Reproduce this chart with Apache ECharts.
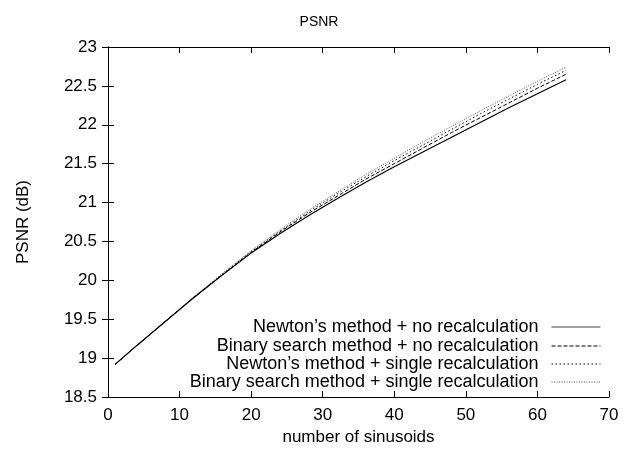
<!DOCTYPE html>
<html>
<head>
<meta charset="utf-8">
<script src="https://cdn.jsdelivr.net/npm/echarts@6/dist/echarts.min.js"></script>
<style>
html,body{margin:0;padding:0;background:#fff;}
#main{width:638px;height:452px;}
</style>
</head>
<body>
<div id="main"></div>
<script>
var xs = [1, 4, 8, 12, 16, 20, 24, 28, 32, 36, 40, 44, 48, 52, 56, 60, 64];
var newtonNo = [18.92, 19.16, 19.47, 19.78, 20.07, 20.35, 20.60, 20.83, 21.05, 21.26, 21.46, 21.65, 21.84, 22.03, 22.22, 22.40, 22.58];
var binaryNo = [18.92, 19.16, 19.47, 19.78, 20.07, 20.36, 20.62, 20.86, 21.08, 21.30, 21.50, 21.70, 21.90, 22.09, 22.28, 22.47, 22.65];
var newtonSingle = [18.92, 19.16, 19.47, 19.78, 20.08, 20.37, 20.63, 20.88, 21.11, 21.33, 21.54, 21.74, 21.94, 22.14, 22.33, 22.52, 22.70];
var binarySingle = [18.92, 19.16, 19.47, 19.79, 20.09, 20.38, 20.65, 20.90, 21.13, 21.36, 21.57, 21.78, 21.98, 22.18, 22.37, 22.56, 22.74];
var names = [
  "Newton’s method + no recalculation",
  "Binary search method + no recalculation",
  "Newton’s method + single recalculation",
  "Binary search method + single recalculation"
];

function pairs(ys) {
  return xs.map(function (x, i) { return [x, ys[i]]; });
}

var font = "Liberation Sans, Arial, sans-serif";
var myChart = echarts.init(document.getElementById("main"));

var lineStyles = [
  {color: "#000", width: 1.2, type: "solid"},
  {color: "#000", width: 1, type: [4, 2]},
  {color: "#000", width: 1, type: [1.5, 2.5]},
  {color: "#555", width: 1, type: [1, 1.5]}
];
var allData = [newtonNo, binaryNo, newtonSingle, binarySingle];
// legend rows, gnuplot style: text right-aligned, sample on the right
var legendBottoms = [116, 97, 79, 61];

var series = names.map(function (n, i) {
  return {
    name: n,
    type: "line",
    data: pairs(allData[i]),
    showSymbol: false,
    symbol: "none",
    lineStyle: lineStyles[i],
    itemStyle: {color: lineStyles[i].color},
    z: 10 - i
  };
});

var legends = names.map(function (n, i) {
  return {
    data: [n],
    right: 37,
    bottom: legendBottoms[i],
    align: "right",
    itemWidth: 49,
    itemHeight: 14,
    itemGap: 0,
    padding: 0,
    itemStyle: {color: "transparent", borderWidth: 0, opacity: 0},
    lineStyle: {width: lineStyles[i].width, color: i === 0 ? "#444" : lineStyles[i].color},
    textStyle: {fontFamily: font, fontSize: 18, color: "#000", padding: [0, 8, 0, 0]},
    selectedMode: false
  };
});

var boxAxis = {
  axisLine: {show: true, lineStyle: {color: "#000", width: 1}},
  axisTick: {show: true, inside: true, length: 6, lineStyle: {color: "#000"}},
  splitLine: {show: false}
};

option = {
  backgroundColor: "#fff",
  animation: false,
  title: {
    text: "PSNR",
    left: "center",
    top: 10,
    textStyle: {fontFamily: font, fontSize: 14, fontWeight: "normal", color: "#000"}
  },
  legend: legends,
  grid: {left: 108, right: 29, top: 47, bottom: 55},
  xAxis: [
    Object.assign({
      type: "value", min: 0, max: 70, interval: 10, position: "bottom",
      name: "number of sinusoids", nameLocation: "middle", nameGap: 31,
      nameTextStyle: {fontFamily: font, fontSize: 17, color: "#000"},
      axisLabel: {fontFamily: font, fontSize: 17, color: "#000", margin: 10}
    }, boxAxis),
    Object.assign({
      type: "value", min: 0, max: 70, interval: 10, position: "top",
      axisLabel: {show: false}
    }, boxAxis)
  ],
  yAxis: [
    Object.assign({
      type: "value", min: 18.5, max: 23, interval: 0.5, position: "left",
      name: "PSNR (dB)", nameLocation: "middle", nameGap: 76,
      nameTextStyle: {fontFamily: font, fontSize: 17, color: "#000"},
      axisLabel: {fontFamily: font, fontSize: 17, color: "#000", margin: 11}
    }, boxAxis),
    Object.assign({
      type: "value", min: 18.5, max: 23, interval: 0.5, position: "right",
      axisLabel: {show: false}
    }, boxAxis)
  ],
  series: series
};

myChart.setOption(option, true);
</script>
</body>
</html>
